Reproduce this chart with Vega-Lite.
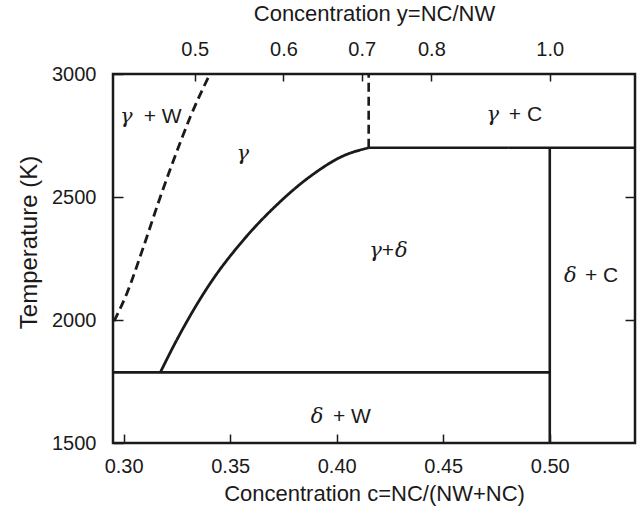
{
  "$schema": "https://vega.github.io/schema/vega-lite/v6.json",
  "autosize": {"type": "none"},
  "padding": {"left": 113, "top": 74, "right": 4, "bottom": 68},
  "width": 522,
  "height": 369,
  "background": "white",
  "config": {
    "view": {"stroke": "#1a1a1a", "strokeWidth": 2.5},
    "axis": {
      "grid": false,
      "domain": false,
      "labelFont": "Liberation Sans",
      "titleFont": "Liberation Sans",
      "labelColor": "#1a1a1a",
      "titleColor": "#1a1a1a",
      "tickColor": "#1a1a1a",
      "tickWidth": 1.5,
      "labelFontSize": 20,
      "titleFontSize": 22,
      "titleFontWeight": "normal"
    }
  },
  "datasets": {
    "lines": [
      {"seg": "h2700", "kind": "straight", "dash": "solid", "o": 1, "c": 0.415, "T": 2700},
      {"seg": "h2700", "kind": "straight", "dash": "solid", "o": 2, "c": 0.54, "T": 2700},
      {"seg": "h1787", "kind": "straight", "dash": "solid", "o": 1, "c": 0.295, "T": 1787},
      {"seg": "h1787", "kind": "straight", "dash": "solid", "o": 2, "c": 0.5, "T": 1787},
      {"seg": "v050", "kind": "straight", "dash": "solid", "o": 1, "c": 0.5, "T": 1500},
      {"seg": "v050", "kind": "straight", "dash": "solid", "o": 2, "c": 0.5, "T": 2700},
      {"seg": "vdash", "kind": "straight", "dash": "dashed", "o": 1, "c": 0.415, "T": 2700},
      {"seg": "vdash", "kind": "straight", "dash": "dashed", "o": 2, "c": 0.415, "T": 3000},
      {"seg": "gd", "kind": "curve", "dash": "solid", "o": 1, "c": 0.3172, "T": 1787},
      {"seg": "gd", "kind": "curve", "dash": "solid", "o": 2, "c": 0.325, "T": 1920},
      {"seg": "gd", "kind": "curve", "dash": "solid", "o": 3, "c": 0.3407, "T": 2150},
      {"seg": "gd", "kind": "curve", "dash": "solid", "o": 4, "c": 0.3563, "T": 2326},
      {"seg": "gd", "kind": "curve", "dash": "solid", "o": 5, "c": 0.372, "T": 2469},
      {"seg": "gd", "kind": "curve", "dash": "solid", "o": 6, "c": 0.3876, "T": 2584},
      {"seg": "gd", "kind": "curve", "dash": "solid", "o": 7, "c": 0.4033, "T": 2668},
      {"seg": "gd", "kind": "curve", "dash": "solid", "o": 8, "c": 0.415, "T": 2700},
      {"seg": "gw", "kind": "curve", "dash": "dashed", "o": 1, "c": 0.2955, "T": 1995},
      {"seg": "gw", "kind": "curve", "dash": "dashed", "o": 2, "c": 0.3016, "T": 2110},
      {"seg": "gw", "kind": "curve", "dash": "dashed", "o": 3, "c": 0.3094, "T": 2300},
      {"seg": "gw", "kind": "curve", "dash": "dashed", "o": 4, "c": 0.3172, "T": 2500},
      {"seg": "gw", "kind": "curve", "dash": "dashed", "o": 5, "c": 0.3267, "T": 2725},
      {"seg": "gw", "kind": "curve", "dash": "dashed", "o": 6, "c": 0.3313, "T": 2826},
      {"seg": "gw", "kind": "curve", "dash": "dashed", "o": 7, "c": 0.3405, "T": 3000}
    ],
    "labels": [
      {"kind": "greek", "txt": "γ", "c": 0.3012, "T": 2800},
      {"kind": "latin", "txt": "+ W", "c": 0.3183, "T": 2800},
      {"kind": "greek", "txt": "γ", "c": 0.3559, "T": 2650},
      {"kind": "greek", "txt": "γ", "c": 0.4182, "T": 2255},
      {"kind": "latin", "txt": "+", "c": 0.424, "T": 2255},
      {"kind": "greek", "txt": "δ", "c": 0.4303, "T": 2255},
      {"kind": "greek", "txt": "γ", "c": 0.4733, "T": 2810},
      {"kind": "latin", "txt": "+ C", "c": 0.4886, "T": 2810},
      {"kind": "greek", "txt": "δ", "c": 0.5097, "T": 2153},
      {"kind": "latin", "txt": "+ C", "c": 0.5243, "T": 2153},
      {"kind": "greek", "txt": "δ", "c": 0.3908, "T": 1583},
      {"kind": "latin", "txt": "+ W", "c": 0.4071, "T": 1583}
    ]
  },
  "resolve": {"axis": {"x": "independent", "y": "independent"}},
  "layer": [
    {
      "data": {"name": "lines"},
      "transform": [{"filter": "datum.kind === 'straight'"}],
      "mark": {"type": "line", "color": "#1a1a1a", "strokeWidth": 2.6, "clip": true},
      "encoding": {
        "x": {
          "field": "c", "type": "quantitative",
          "scale": {"domain": [0.295, 0.54], "nice": false, "zero": false},
          "axis": {
            "orient": "bottom",
            "values": [0.3, 0.35, 0.4, 0.45, 0.5],
            "format": ".2f",
            "tickSize": -9,
            "labelPadding": 22,
            "title": "Concentration c=NC/(NW+NC)",
            "titleY": 57,
            "titleBaseline": "alphabetic"
          }
        },
        "y": {
          "field": "T", "type": "quantitative",
          "scale": {"domain": [1500, 3000], "nice": false, "zero": false},
          "axis": {
            "orient": "left",
            "values": [1500, 2000, 2500, 3000],
            "format": "d",
            "tickSize": -10,
            "labelPadding": 27,
            "title": "Temperature (K)",
            "titleFontSize": 24,
            "titleX": -77,
            "titleY": 168,
            "titleBaseline": "alphabetic"
          }
        },
        "detail": {"field": "seg"},
        "order": {"field": "o"},
        "strokeDash": {
          "field": "dash", "type": "nominal",
          "scale": {"domain": ["solid", "dashed"], "range": [[1, 0], [9, 5]]},
          "legend": null
        }
      }
    },
    {
      "data": {"name": "lines"},
      "transform": [{"filter": "datum.kind === 'curve'"}],
      "mark": {"type": "line", "color": "#1a1a1a", "strokeWidth": 2.8, "interpolate": "monotone", "clip": true},
      "encoding": {
        "x": {
          "field": "c", "type": "quantitative",
          "axis": {
            "orient": "top",
            "values": [0.333333, 0.375, 0.411765, 0.444444, 0.5],
            "labelExpr": "format(datum.value / (1 - datum.value), '.1f')",
            "tickSize": -7,
            "labelPadding": 22,
            "title": "Concentration y=NC/NW",
            "titleY": -54,
            "titleBaseline": "alphabetic"
          }
        },
        "y": {
          "field": "T", "type": "quantitative",
          "axis": {
            "orient": "right",
            "values": [2000, 2500],
            "tickSize": -10,
            "labels": false,
            "title": null
          }
        },
        "detail": {"field": "seg"},
        "order": {"field": "o"},
        "strokeDash": {
          "field": "dash", "type": "nominal",
          "scale": {"domain": ["solid", "dashed"], "range": [[1, 0], [9, 5]]},
          "legend": null
        }
      }
    },
    {
      "data": {"name": "labels"},
      "transform": [{"filter": "datum.kind === 'greek'"}],
      "mark": {"type": "text", "font": "DejaVu Serif", "fontStyle": "italic", "fontSize": 21, "color": "#1a1a1a", "align": "center", "baseline": "alphabetic"},
      "encoding": {
        "x": {"field": "c", "type": "quantitative", "axis": null},
        "y": {"field": "T", "type": "quantitative", "axis": null},
        "text": {"field": "txt"}
      }
    },
    {
      "data": {"name": "labels"},
      "transform": [{"filter": "datum.kind === 'latin'"}],
      "mark": {"type": "text", "font": "Liberation Sans", "fontSize": 21, "color": "#1a1a1a", "align": "center", "baseline": "alphabetic"},
      "encoding": {
        "x": {"field": "c", "type": "quantitative", "axis": null},
        "y": {"field": "T", "type": "quantitative", "axis": null},
        "text": {"field": "txt"}
      }
    }
  ]
}
